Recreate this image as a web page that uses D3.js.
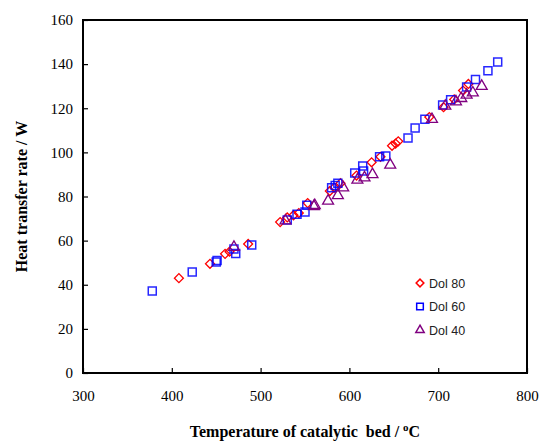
<!DOCTYPE html>
<html>
<head>
<meta charset="utf-8">
<script src="https://cdn.jsdelivr.net/npm/d3@7"></script>
<style>
  html, body { margin: 0; padding: 0; background: #fff; }
</style>
</head>
<body>
<div id="chart"></div>
<script>
// Dol 80 (red diamonds)
var dol80T = [408, 443, 460, 465, 486, 522, 530, 537, 543, 553, 578, 583, 590, 608, 625, 635, 648, 652, 655, 690, 706, 718, 728, 734];
var dol80W = [43, 49.5, 54, 55, 58.5, 68.4, 70.5, 71.5, 72.5, 77, 82.5, 84, 86, 89.5, 95.5, 98, 103, 104, 105, 116, 120.5, 124, 128, 131];
// Dol 60 (blue squares)
var dol60T = [378, 423, 450, 451, 470, 472, 490, 530, 541, 550, 552, 580, 584, 587, 606, 615, 616, 634, 641, 666, 674, 685, 705, 714, 732, 742, 756, 767];
var dol60W = [37.2, 45.8, 50.3, 51, 56.2, 54.2, 58, 69.4, 72, 73, 76, 84, 85, 86, 90.6, 93.8, 91.6, 98, 98.4, 106.5, 111, 115, 121.5, 123.8, 129.6, 133, 137, 141];
// Dol 40 (purple triangles)
var dol40T = [470, 528, 560, 561, 576, 587, 593, 609, 617, 626, 646, 693, 708, 720, 726, 732, 739, 749];
var dol40W = [57, 69, 75.5, 76, 78, 80.5, 84, 87.5, 88.5, 90, 94.3, 115, 121, 123, 124.5, 126, 127, 130];

var xTicks = [300, 400, 500, 600, 700, 800];
var yTicks = [0, 20, 40, 60, 80, 100, 120, 140, 160];
var seriesNames = ['Dol 80', 'Dol 60', 'Dol 40'];

var SERIF = '"Liberation Serif", "DejaVu Serif", serif';
var width = 544, height = 442;
var margin = { top: 20, right: 17, bottom: 69, left: 83 };
var w = width - margin.left - margin.right;
var h = height - margin.top - margin.bottom;

var svg = d3.select('#chart').append('svg')
  .attr('width', width)
  .attr('height', height);

var g = svg.append('g')
  .attr('transform', 'translate(' + margin.left + ',' + margin.top + ')');

var x = d3.scaleLinear().domain([300, 800]).range([0, w]);
var y = d3.scaleLinear().domain([0, 160]).range([h, 0]);

// axes (ticks inside)
var xAxis = g.append('g')
  .attr('transform', 'translate(0,' + h + ')')
  .call(d3.axisBottom(x).tickValues(xTicks).tickSizeInner(-5).tickSizeOuter(0).tickPadding(17));
var yAxis = g.append('g')
  .call(d3.axisLeft(y).tickValues(yTicks).tickSizeInner(-5).tickSizeOuter(0).tickPadding(10));

[xAxis, yAxis].forEach(function (a) {
  a.select('.domain').remove();
  a.attr('font-family', SERIF).attr('font-size', 15);
  a.selectAll('line').attr('stroke', '#000').attr('stroke-width', 1.2);
  a.selectAll('text')
    .attr('fill', '#000')
    .style('font-family', SERIF)
    .style('font-size', '15px');
});

// frame
g.append('rect')
  .attr('x', 0).attr('y', 0)
  .attr('width', w).attr('height', h)
  .attr('fill', 'none')
  .attr('stroke', '#000')
  .attr('stroke-width', 2);

var sym = {
  diamond: d3.symbol().type(d3.symbolSquare).size(40),
  square: d3.symbol().type(d3.symbolSquare).size(64),
  triangle: d3.symbol().type(d3.symbolTriangle).size(52)
};

function zip(a, b) {
  return a.map(function (v, i) { return { t: v, w: b[i] }; });
}

// Dol 80
g.append('g').selectAll('path')
  .data(zip(dol80T, dol80W))
  .enter().append('path')
  .attr('d', sym.diamond())
  .attr('transform', function (d) { return 'translate(' + x(d.t) + ',' + y(d.w) + ') rotate(45)'; })
  .attr('fill', 'none')
  .attr('stroke', '#ff0000')
  .attr('stroke-width', 1.3);

// Dol 60
g.append('g').selectAll('path')
  .data(zip(dol60T, dol60W))
  .enter().append('path')
  .attr('d', sym.square())
  .attr('transform', function (d) { return 'translate(' + x(d.t) + ',' + y(d.w) + ')'; })
  .attr('fill', 'none')
  .attr('stroke', '#0000ff')
  .attr('stroke-opacity', 0.85)
  .attr('stroke-width', 1.5);

// Dol 40
g.append('g').selectAll('path')
  .data(zip(dol40T, dol40W))
  .enter().append('path')
  .attr('d', sym.triangle())
  .attr('transform', function (d) { return 'translate(' + x(d.t) + ',' + y(d.w) + ')'; })
  .attr('fill', 'none')
  .attr('stroke', '#800080')
  .attr('stroke-width', 1.3);

// legend
var legend = g.append('g').attr('transform', 'translate(337,263)');
var legendSyms = [
  { s: sym.diamond, rot: 45, c: '#ff0000' },
  { s: sym.square, rot: 0, c: '#0000ff' },
  { s: sym.triangle, rot: 0, c: '#800080' }
];
seriesNames.forEach(function (name, i) {
  var item = legend.append('g').attr('transform', 'translate(0,' + (i * 23.5) + ')');
  item.append('path')
    .attr('d', legendSyms[i].s.size(i === 1 ? 44 : 30)())
    .attr('transform', 'rotate(' + legendSyms[i].rot + ')')
    .attr('fill', 'none')
    .attr('stroke', legendSyms[i].c)
    .attr('stroke-width', 1.5);
  item.append('text')
    .attr('x', 9)
    .attr('y', 4.5)
    .style('font-family', '"Liberation Sans", Arial, sans-serif')
    .style('font-size', '12.5px')
    .attr('fill', '#222')
    .text(name);
});

// axis titles
svg.append('text')
  .attr('transform', 'translate(27,' + (margin.top + h / 2) + ') rotate(-90)')
  .attr('text-anchor', 'middle')
  .style('font-family', SERIF)
  .style('font-size', '16px')
  .style('font-weight', 'bold')
  .text('Heat transfer rate / W');

var xt = svg.append('text')
  .attr('x', margin.left + w / 2)
  .attr('y', 437)
  .attr('text-anchor', 'middle')
  .style('font-family', SERIF)
  .style('font-size', '16px')
  .style('font-weight', 'bold')
  .attr('xml:space', 'preserve');
xt.append('tspan').text('Temperature of catalytic  bed / ');
xt.append('tspan').attr('dy', -6).style('font-size', '11px').text('o');
xt.append('tspan').attr('dy', 6).text('C');
</script>
</body>
</html>
